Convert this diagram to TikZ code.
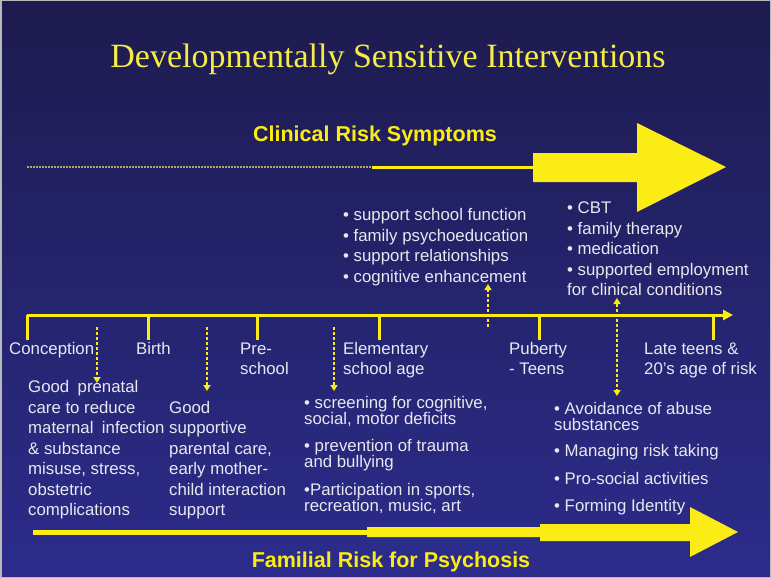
\documentclass[tikz,border=0pt]{standalone}
\usepackage{fontspec}
\setmainfont{Liberation Sans}
\newfontfamily\titlefont{Liberation Serif}
\usetikzlibrary{arrows.meta}

\definecolor{bgtop}{RGB}{29,27,78}
\definecolor{bgbot}{RGB}{44,44,140}
\definecolor{arrowyel}{RGB}{250,236,20}
\definecolor{titleyel}{RGB}{245,236,70}
\definecolor{txtwhite}{RGB}{232,232,238}
\definecolor{dotgray}{RGB}{175,168,105}

% multi-line labels sit on the baseline of their LAST line
\tikzset{
  lbl/.style={anchor=base west, inner sep=0pt, align=left, text=txtwhite, font=\fontsize{16.8}{20.5}\selectfont},
  tightlbl/.style={lbl, font=\fontsize{16.8}{16}\selectfont},
  heading/.style={anchor=base, inner sep=0pt, text=arrowyel, font=\bfseries\fontsize{21.5}{25}\selectfont},
  timeline/.style={draw=arrowyel, line width=3pt},
  dotarrow/.style={draw=arrowyel, line width=2pt, dash pattern=on 3pt off 2pt, -{Triangle[length=6pt,width=7pt]}},
  dotboth/.style={dotarrow, {Triangle[length=6pt,width=7pt]}-{Triangle[length=6pt,width=7pt]}},
}

\begin{document}
\begin{tikzpicture}[x=1pt,y=-1pt]
\useasboundingbox (0,0) rectangle (771,578);
\shade[top color=bgtop, bottom color=bgbot] (0,0) rectangle (771,578);
\draw[gray!55, line width=1.5pt] (0.75,0.75) rectangle (770.25,577.25); %frame

\node[anchor=base, inner sep=0pt, text=titleyel, font=\titlefont\fontsize{34}{40}\selectfont] (title) at (388,67) {Developmentally Sensitive Interventions};

% clinical risk arrow (top)
\node[heading] (clinical) at (375,141.5) {Clinical Risk Symptoms};
\coordinate (cr0) at (27,167);
\coordinate (cr1) at (372,167);
\coordinate (cr2) at (533,167);
\draw[dotgray, line width=1.2pt, dash pattern=on 1.5pt off 1.5pt] (cr0) -- (cr1);
\draw[arrowyel, line width=3pt] (cr1) -- (cr2);
\fill[arrowyel] (533,153) -- (637,153) -- (637,123) -- (726,167) -- (637,212) -- (637,182) -- (533,182) -- cycle;

% time line
\coordinate (t0) at (27,315);
\coordinate (tend) at (733,315);
\draw[timeline, -{Triangle[length=10pt,width=10pt]}] (t0) -- (tend);

\coordinate (k1) at (27,315);  \coordinate (k1b) at (27,340);
\coordinate (k2) at (148,315); \coordinate (k2b) at (148,340);
\coordinate (k3) at (257,315); \coordinate (k3b) at (257,340);
\coordinate (k4) at (379,315); \coordinate (k4b) at (379,340);
\coordinate (k5) at (539,315); \coordinate (k5b) at (539,340);
\coordinate (k6) at (713,315); \coordinate (k6b) at (713,340);
\draw[timeline] (k1) -- (k1b);
\draw[timeline] (k2) -- (k2b);
\draw[timeline] (k3) -- (k3b);
\draw[timeline] (k4) -- (k4b);
\draw[timeline] (k5) -- (k5b);
\draw[timeline] (k6) -- (k6b);

\node[lbl] (conc) at (9,354.5) {Conception};
\node[lbl] (birth) at (136,354.5) {Birth};
\node[lbl] (presch) at (240,374.5) {Pre-\\school};
\node[lbl] (elem) at (343,374.5) {Elementary\\school age};
\node[lbl] (puberty) at (509,374.5) {Puberty\\- Teens};
\node[lbl] (late) at (644,374.5) {Late teens \&\\20’s age of risk};

% interventions below the line
\node[lbl] (prenatal) at (28,515.5) {Good\enspace prenatal\\care to reduce\\maternal\enspace infection\\\& substance\\misuse, stress,\\obstetric\\complications};
\node[lbl] (parental) at (169,515.5) {Good\\supportive\\parental care,\\early mother-\\child interaction\\support};

\node[tightlbl] (screen) at (304,424.5) {• screening for cognitive,\\social, motor deficits};
\node[tightlbl] (trauma) at (304,467) {• prevention of trauma\\and bullying};
\node[tightlbl] (sports) at (304,511) {•Participation in sports,\\recreation, music, art};

\node[tightlbl] (avoid) at (554,430.5) {• Avoidance of abuse\\substances};
\node[lbl] (risk) at (554,456.5) {• Managing risk taking};
\node[lbl] (prosocial) at (554,484.5) {• Pro-social activities};
\node[lbl] (identity) at (554,511.5) {• Forming Identity};

% interventions above the line
\node[lbl] (school) at (343,282) {• support school function\\• family psychoeducation\\• support relationships\\• cognitive enhancement};
\node[lbl] (cbt) at (567,295.5) {• CBT\\• family therapy\\• medication\\• supported employment\\for clinical conditions};

% dotted pointers
\coordinate (d1a) at (97,327);  \coordinate (d1b) at (97,383);
\coordinate (d2a) at (207,327); \coordinate (d2b) at (207,391);
\coordinate (d3a) at (334,327); \coordinate (d3b) at (334,391);
\coordinate (d4a) at (488,327); \coordinate (d4b) at (488,284);
\coordinate (d5a) at (617,298); \coordinate (d5b) at (617,396);
\draw[dotarrow] (d1a) -- (d1b);
\draw[dotarrow] (d2a) -- (d2b);
\draw[dotarrow] (d3a) -- (d3b);
\draw[dotarrow] (d4a) -- (d4b);
\draw[dotboth] (d5a) -- (d5b);

% familial risk arrow (bottom)
\coordinate (fr0) at (33,532.5);
\coordinate (fr1) at (368,532.5);
\draw[arrowyel, line width=5pt] (fr0) -- (fr1);
\fill[arrowyel] (367,527) -- (540,527) -- (540,524) -- (690,524) -- (690,507) -- (738,532) -- (690,557) -- (690,541) -- (540,541) -- (540,537) -- (367,537) -- cycle;
\node[heading] (familial) at (391,567.5) {Familial Risk for Psychosis};

\end{tikzpicture}
\end{document}
